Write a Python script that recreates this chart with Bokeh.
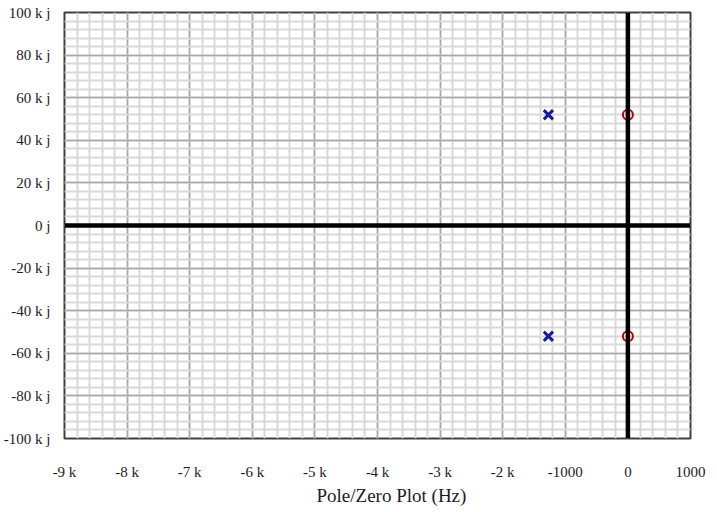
from bokeh.plotting import figure
from bokeh.models import Range1d, FixedTicker, Span, Title
from bokeh.embed import file_html
from bokeh.resources import INLINE

# Data
pole_re = [-1270, -1270]
pole_im = [52000, -52000]
zero_re = [0, 0]
zero_im = [52000, -52000]

x_ticks = [-9000, -8000, -7000, -6000, -5000, -4000, -3000, -2000, -1000, 0, 1000]
x_tick_labels = ["-9 k", "-8 k", "-7 k", "-6 k", "-5 k", "-4 k", "-3 k", "-2 k", "-1000", "0", "1000"]
x_minor = list(range(-9000, 1001, 200))
y_ticks = [100000, 80000, 60000, 40000, 20000, 0, -20000, -40000, -60000, -80000, -100000]
y_tick_labels = ["100 k j", "80 k j", "60 k j", "40 k j", "20 k j", "0 j",
                 "-20 k j", "-40 k j", "-60 k j", "-80 k j", "-100 k j"]
y_minor = list(range(-100000, 100001, 4000))

FONT = "Liberation Serif"

p = figure(width=717, height=512, output_backend="svg", toolbar_location=None,
           x_range=Range1d(-9000, 1000), y_range=Range1d(-100000, 100000),
           min_border_left=63, min_border_right=27, min_border_top=12, min_border_bottom=74)
p.background_fill_color = "white"
p.border_fill_color = "white"
p.outline_line_color = "#404040"
p.outline_line_width = 2

p.xaxis.ticker = FixedTicker(ticks=x_ticks, minor_ticks=x_minor)
p.yaxis.ticker = FixedTicker(ticks=y_ticks, minor_ticks=y_minor)
p.xaxis.major_label_overrides = {t: l for t, l in zip(x_ticks, x_tick_labels)}
p.yaxis.major_label_overrides = {t: l for t, l in zip(y_ticks, y_tick_labels)}

for ax in (p.xaxis, p.yaxis):
    ax.axis_line_color = None
    ax.major_tick_line_color = None
    ax.minor_tick_line_color = None
    ax.major_label_text_font = FONT
    ax.major_label_text_font_size = "15px"
    ax.major_label_text_color = "#1c1c28"

p.xaxis.major_label_standoff = 19
p.yaxis.major_label_standoff = 8

p.add_layout(Title(text="Pole/Zero Plot (Hz)", align="left", offset=252,
                   text_font=FONT, text_font_style="normal", text_font_size="19px",
                   text_color="#1c1c28", standoff=0), "below")

for g in (p.xgrid, p.ygrid):
    g.grid_line_color = "#a8a8a8"
    g.grid_line_width = 1.5
    g.minor_grid_line_color = "#d9d9d9"
    g.minor_grid_line_width = 2
    g.level = "underlay"

p.add_layout(Span(location=0, dimension="width", line_color="black", line_width=4.5))
p.add_layout(Span(location=0, dimension="height", line_color="black", line_width=4.5))

p.scatter(pole_re, pole_im, marker="x", size=13, line_color="#1a1a99", line_width=3)
p.scatter(zero_re, zero_im, marker="circle", size=10, fill_color=None,
          line_color="#c00000", line_width=2)

open("out.html", "w").write(file_html(p, INLINE))
